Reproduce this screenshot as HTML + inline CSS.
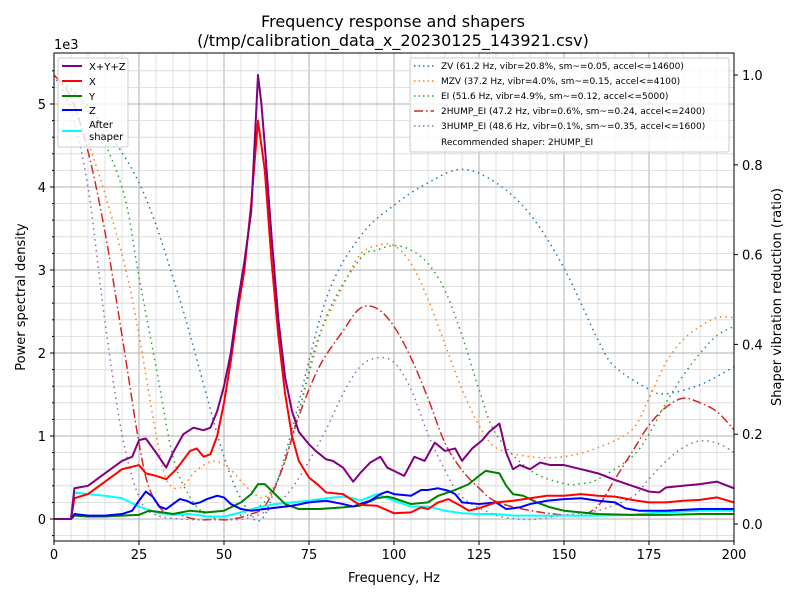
<!DOCTYPE html>
<html><head><meta charset="utf-8"><style>
body{margin:0;background:#fff;font-family:"DejaVu Sans","Liberation Sans",sans-serif;}
svg text{font-family:"DejaVu Sans","Liberation Sans",sans-serif;}
</style></head><body>
<svg id="chart" width="800" height="600" xmlns="http://www.w3.org/2000/svg"></svg>
<script>
// ---- data (PSD in units of 1e3) ----
const psdXYZ = [[0,0],[5,0],[6,0.37],[10,0.4],[15,0.55],[20,0.7],[23,0.75],[25,0.95],[27,0.97],[30,0.8],[33,0.62],[35,0.8],[38,1.02],[41,1.1],[44,1.07],[46,1.1],[48,1.3],[50,1.6],[52,2.0],[54,2.6],[56,3.1],[58,3.7],[60,5.35],[61,5.0],[62,4.5],[64,3.4],[66,2.4],[68,1.7],[70,1.3],[72,1.05],[75,0.9],[77,0.82],[80,0.72],[82,0.7],[85,0.62],[88,0.45],[90,0.55],[93,0.68],[96,0.75],[98,0.62],[100,0.58],[103,0.52],[106,0.75],[109,0.7],[112,0.92],[115,0.82],[118,0.85],[120,0.7],[123,0.85],[126,0.95],[128,1.05],[131,1.15],[133,0.8],[135,0.6],[137,0.65],[140,0.6],[143,0.68],[146,0.65],[150,0.65],[155,0.6],[160,0.55],[165,0.47],[170,0.4],[175,0.33],[178,0.32],[180,0.38],[185,0.4],[190,0.42],[195,0.45],[200,0.37]];
const psdX = [[0,0],[5,0],[6,0.25],[10,0.3],[15,0.45],[20,0.6],[25,0.65],[27,0.55],[30,0.52],[33,0.48],[36,0.6],[40,0.82],[42,0.85],[44,0.75],[46,0.78],[48,1.0],[50,1.4],[52,1.9],[54,2.5],[56,3.0],[58,3.8],[60,4.8],[62,4.2],[64,3.1],[66,2.2],[68,1.5],[70,1.0],[72,0.7],[75,0.5],[78,0.4],[80,0.32],[85,0.3],[88,0.22],[90,0.17],[95,0.16],[100,0.07],[105,0.08],[108,0.14],[110,0.12],[113,0.2],[116,0.24],[120,0.15],[122,0.1],[125,0.13],[130,0.2],[135,0.22],[140,0.25],[145,0.28],[150,0.28],[155,0.3],[160,0.28],[165,0.27],[170,0.23],[175,0.2],[180,0.2],[185,0.22],[190,0.23],[195,0.26],[200,0.2]];
const psdY = [[0,0],[5,0],[6,0.04],[10,0.03],[15,0.03],[20,0.04],[25,0.05],[28,0.1],[32,0.08],[35,0.06],[40,0.1],[45,0.08],[50,0.1],[55,0.2],[58,0.3],[60,0.42],[62,0.42],[65,0.3],[68,0.18],[72,0.12],[78,0.12],[85,0.14],[90,0.16],[95,0.25],[98,0.27],[100,0.25],[105,0.18],[110,0.2],[113,0.28],[118,0.35],[122,0.42],[125,0.52],[127,0.58],[131,0.55],[133,0.4],[135,0.3],[138,0.28],[142,0.2],[146,0.14],[150,0.1],[155,0.08],[160,0.06],[170,0.05],[180,0.05],[190,0.06],[200,0.06]];
const psdZ = [[0,0],[5,0],[6,0.06],[10,0.04],[15,0.04],[20,0.06],[23,0.1],[25,0.22],[27,0.33],[29,0.27],[31,0.15],[33,0.12],[35,0.18],[37,0.24],[39,0.22],[41,0.18],[43,0.2],[45,0.24],[48,0.28],[50,0.26],[52,0.18],[55,0.12],[58,0.1],[62,0.12],[66,0.14],[70,0.16],[75,0.2],[80,0.22],[85,0.18],[88,0.15],[90,0.18],[93,0.22],[96,0.3],[98,0.33],[100,0.3],[105,0.28],[108,0.35],[110,0.35],[113,0.37],[116,0.34],[118,0.3],[120,0.2],[125,0.18],[130,0.2],[133,0.12],[137,0.14],[140,0.18],[145,0.22],[150,0.24],[155,0.25],[160,0.22],[165,0.2],[168,0.13],[172,0.1],[175,0.1],[180,0.1],[190,0.12],[200,0.12]];
const psdAfter = [[0,0],[5,0],[6,0.32],[10,0.3],[15,0.28],[20,0.25],[25,0.15],[30,0.08],[35,0.05],[40,0.06],[45,0.03],[50,0.03],[55,0.08],[60,0.14],[65,0.18],[70,0.2],[75,0.22],[80,0.25],[85,0.27],[88,0.25],[90,0.22],[95,0.3],[100,0.22],[105,0.15],[110,0.15],[115,0.1],[120,0.07],[125,0.06],[130,0.06],[135,0.04],[140,0.04],[150,0.04],[160,0.04],[170,0.05],[175,0.07],[180,0.08],[190,0.1],[200,0.1]];
// ---- shaper ratios (right axis) ----
const shZV = [[0,1.0],[10,0.93],[25,0.76],[37,0.5],[50,0.15],[57,0.03],[61,0.01],[65,0.08],[70,0.21],[80,0.5],[90,0.64],[100,0.71],[110,0.76],[120,0.79],[130,0.76],[140,0.69],[150,0.57],[160,0.41],[165,0.35],[175,0.3],[180,0.29],[190,0.31],[200,0.35]];
const shMZV = [[0,1.0],[10,0.85],[20,0.6],[25,0.42],[30,0.2],[33,0.1],[37,0.08],[42,0.12],[47,0.14],[52,0.12],[57,0.08],[62,0.06],[67,0.12],[72,0.25],[77,0.4],[85,0.53],[90,0.6],[95,0.62],[100,0.62],[105,0.58],[110,0.5],[115,0.4],[120,0.3],[125,0.22],[130,0.17],[140,0.15],[150,0.15],[160,0.17],[170,0.21],[175,0.28],[180,0.36],[185,0.41],[190,0.44],[195,0.46],[200,0.46]];
const shEI = [[0,1.0],[10,0.92],[20,0.75],[25,0.55],[30,0.35],[35,0.15],[40,0.06],[45,0.02],[52,0.01],[57,0.03],[62,0.05],[67,0.12],[72,0.25],[80,0.46],[90,0.59],[95,0.61],[100,0.62],[105,0.61],[110,0.58],[115,0.52],[120,0.42],[125,0.3],[130,0.2],[140,0.12],[150,0.09],[155,0.09],[160,0.1],[170,0.15],[175,0.2],[180,0.27],[185,0.33],[190,0.38],[195,0.42],[200,0.44]];
const sh2HUMP = [[0,1.0],[5,0.95],[10,0.83],[15,0.65],[20,0.42],[25,0.18],[28,0.08],[32,0.03],[37,0.02],[42,0.01],[47,0.01],[52,0.01],[57,0.02],[62,0.04],[67,0.12],[72,0.24],[78,0.35],[85,0.43],[90,0.48],[95,0.48],[100,0.44],[105,0.37],[110,0.28],[115,0.18],[120,0.12],[125,0.08],[130,0.05],[140,0.03],[150,0.02],[155,0.02],[160,0.04],[165,0.1],[170,0.16],[175,0.22],[180,0.26],[185,0.28],[190,0.27],[195,0.25],[200,0.21]];
const sh3HUMP = [[0,1.0],[5,0.92],[10,0.75],[15,0.45],[20,0.2],[25,0.06],[30,0.02],[40,0.01],[50,0.01],[55,0.01],[60,0.02],[65,0.04],[70,0.08],[75,0.14],[80,0.21],[85,0.29],[90,0.35],[95,0.37],[100,0.36],[105,0.3],[110,0.2],[115,0.12],[120,0.06],[130,0.02],[140,0.01],[150,0.02],[160,0.03],[170,0.06],[175,0.1],[180,0.14],[185,0.17],[190,0.185],[195,0.18],[200,0.16]];
const xTicks = [0,25,50,75,100,125,150,175,200];
const yTicks = [0,1,2,3,4,5];
const y2Ticks = [0.0,0.2,0.4,0.6,0.8,1.0];

const L=54,R=734,T=53,B=541;
const X=f=>L+(f-0)/200*(R-L);
const Y=v=>519-v*83;
const Y2=r=>524-r*449;
const svg=document.getElementById('chart');
const NS='http://www.w3.org/2000/svg';
function el(tag,attrs,parent){const e=document.createElementNS(NS,tag);for(const k in attrs)e.setAttribute(k,attrs[k]);(parent||svg).appendChild(e);return e;}
function txt(s,attrs,parent){const e=el('text',attrs,parent);e.textContent=s;return e;}

const grid=el('g',{});


for(let f=0;f<=200;f+=5){const major=f%25===0;el('line',{x1:X(f),x2:X(f),y1:T,y2:B,stroke:major?'#b0b0b0':'#d8d8d8','stroke-width':major?1:0.8},grid);}
for(let v=-0.2;v<=5.6;v+=0.2){const vv=Math.round(v*10)/10;const major=Math.abs(vv-Math.round(vv))<1e-6;const y=Y(vv);if(y<T||y>B)continue;el('line',{x1:L,x2:R,y1:y,y2:y,stroke:major?'#b0b0b0':'#d8d8d8','stroke-width':major?1:0.8},grid);}

const clip=el('clipPath',{id:'pc'});el('rect',{x:L,y:T,width:R-L,height:B-T},clip);
const plot=el('g',{'clip-path':'url(#pc)'});
function smoothPath(pts){let d='M'+pts[0][0]+','+pts[0][1];for(let i=0;i<pts.length-1;i++){const p0=pts[i-1]||pts[i],p1=pts[i],p2=pts[i+1],p3=pts[i+2]||p2;const c1x=p1[0]+(p2[0]-p0[0])/6,c1y=p1[1]+(p2[1]-p0[1])/6,c2x=p2[0]-(p3[0]-p1[0])/6,c2y=p2[1]-(p3[1]-p1[1])/6;d+=' C'+c1x+','+c1y+' '+c2x+','+c2y+' '+p2[0]+','+p2[1];}return d;}
function line(data,yf,color,w,dash,name,smooth){const pts=data.map(d=>[X(d[0]),yf(d[1])]);const p=el('path',{d:smooth?smoothPath(pts):'M'+pts.map(q=>q.join(',')).join(' L'),fill:'none',stroke:color,'stroke-width':w,'stroke-linejoin':'round'},plot);if(dash)p.setAttribute('stroke-dasharray',dash);}
line(shZV,Y2,'#1f77b4',1.5,'1.5,4','zv-shaper-line',true);
line(shMZV,Y2,'#ff7f0e',1.5,'1.5,4','mzv-shaper-line',true);
line(shEI,Y2,'#2ca02c',1.5,'1.5,4','ei-shaper-line',true);
line(sh2HUMP,Y2,'#d62728',1.5,'9,3,1.5,3','2hump-ei-shaper-line',true);
line(sh3HUMP,Y2,'#9467bd',1.5,'1.5,4','3hump-ei-shaper-line',true);
line(psdAfter,Y,'cyan',2,null,'after-shaper-line');
line(psdY,Y,'green',2,null,'psd-y-line');
line(psdZ,Y,'blue',2,null,'psd-z-line');
line(psdX,Y,'red',2,null,'psd-x-line');
line(psdXYZ,Y,'purple',2,null,'psd-xyz-line');

el('rect',{x:L,y:T,width:R-L,height:B-T,fill:'none',stroke:'#000','stroke-width':1});

xTicks.forEach(f=>{el('line',{x1:X(f),x2:X(f),y1:B,y2:B+4,stroke:'#000'});const t=txt(String(f),{x:X(f),y:B+18,'text-anchor':'middle','font-size':13});});
yTicks.forEach(v=>{el('line',{x1:L-4,x2:L,y1:Y(v),y2:Y(v),stroke:'#000'});const t=txt(String(v),{x:L-8,y:Y(v)+5,'text-anchor':'end','font-size':13});});
for(let v=-0.2;v<=5.6;v+=0.2){const y=Y(v);if(y<T||y>B)continue;el('line',{x1:L-2,x2:L,y1:y,y2:y,stroke:'#000'});}
y2Ticks.forEach(r=>{el('line',{x1:R,x2:R+4,y1:Y2(r),y2:Y2(r),stroke:'#000'});const t=txt(r.toFixed(1),{x:R+8,y:Y2(r)+5,'font-size':13});});
</script>
<svg width="800" height="600" style="position:absolute;left:0;top:0" xmlns="http://www.w3.org/2000/svg">
<text x="393" y="27" text-anchor="middle" font-size="16">Frequency response and shapers</text>
<text x="393" y="46" text-anchor="middle" font-size="16">(/tmp/calibration_data_x_20230125_143921.csv)</text>
<text x="54" y="49" font-size="13">1e3</text>
<text x="394" y="582" text-anchor="middle" font-size="13">Frequency, Hz</text>
<text transform="translate(25,297) rotate(-90)" text-anchor="middle" font-size="13">Power spectral density</text>
<text transform="translate(781,297) rotate(-90)" text-anchor="middle" font-size="13">Shaper vibration reduction (ratio)</text>
<g>
<rect x="58" y="58" width="70" height="89" rx="2" fill="#fff" fill-opacity="0.8" stroke="#ccc"/>
<line x1="62" x2="82" y1="66" y2="66" stroke="purple" stroke-width="2"/><text x="89" y="70" font-size="10">X+Y+Z</text>
<line x1="62" x2="82" y1="81" y2="81" stroke="red" stroke-width="2"/><text x="89" y="85" font-size="10">X</text>
<line x1="62" x2="82" y1="96" y2="96" stroke="green" stroke-width="2"/><text x="89" y="100" font-size="10">Y</text>
<line x1="62" x2="82" y1="110" y2="110" stroke="blue" stroke-width="2"/><text x="89" y="114" font-size="10">Z</text>
<line x1="62" x2="82" y1="131" y2="131" stroke="cyan" stroke-width="2"/><text x="89" y="128" font-size="10">After</text><text x="89" y="140" font-size="10">shaper</text>
</g>
<g>
<rect x="410" y="58" width="319" height="94" rx="2" fill="#fff" fill-opacity="0.8" stroke="#ccc"/>
<line x1="414" x2="434" y1="66" y2="66" stroke="#1f77b4" stroke-width="1.5" stroke-dasharray="1.5,3"/><text x="441" y="69" font-size="9">ZV (61.2 Hz, vibr=20.8%, sm~=0.05, accel&lt;=14600)</text>
<line x1="414" x2="434" y1="81" y2="81" stroke="#ff7f0e" stroke-width="1.5" stroke-dasharray="1.5,3"/><text x="441" y="84" font-size="9">MZV (37.2 Hz, vibr=4.0%, sm~=0.15, accel&lt;=4100)</text>
<line x1="414" x2="434" y1="96" y2="96" stroke="#2ca02c" stroke-width="1.5" stroke-dasharray="1.5,3"/><text x="441" y="99" font-size="9">EI (51.6 Hz, vibr=4.9%, sm~=0.12, accel&lt;=5000)</text>
<line x1="414" x2="434" y1="111" y2="111" stroke="#d62728" stroke-width="1.5" stroke-dasharray="9,3,1.5,3"/><text x="441" y="114" font-size="9">2HUMP_EI (47.2 Hz, vibr=0.6%, sm~=0.24, accel&lt;=2400)</text>
<line x1="414" x2="434" y1="126" y2="126" stroke="#9467bd" stroke-width="1.5" stroke-dasharray="1.5,3"/><text x="441" y="129" font-size="9">3HUMP_EI (48.6 Hz, vibr=0.1%, sm~=0.35, accel&lt;=1600)</text>
<text x="441" y="145" font-size="9">Recommended shaper: 2HUMP_EI</text>
</g>
</svg>
</body></html>
